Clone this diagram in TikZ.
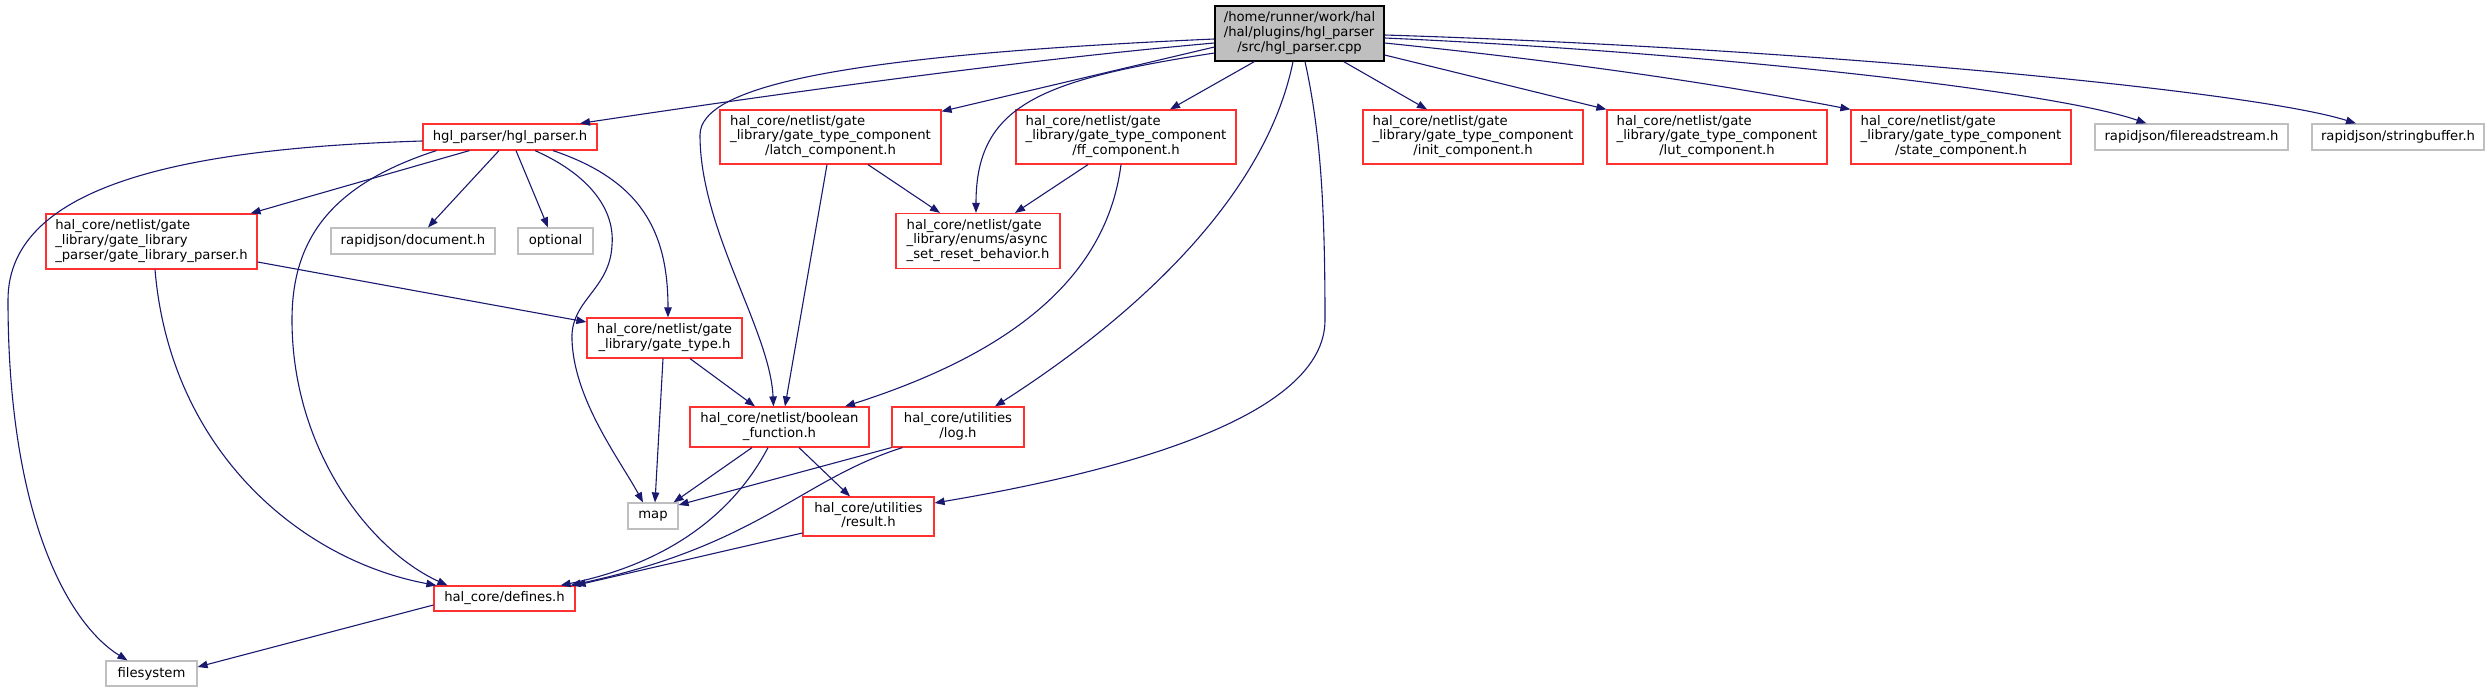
\documentclass[tikz,border=0pt]{standalone}
\usepackage{fontspec}
\newfontfamily\dxfont{DejaVu Sans}
\usetikzlibrary{arrows.meta}
\definecolor{midnight}{HTML}{191970}
\definecolor{grey75}{HTML}{BFBFBF}
\definecolor{incred}{HTML}{FF3030}
\newcommand{\dxlines}[1]{\begin{tabular}{@{}l@{}}#1\end{tabular}}
\newcommand{\dxlast}[1]{\multicolumn{1}{@{}c@{}}{#1}}
\tikzset{
  incbox/.style={draw=incred, line width=1.2pt, fill=white, inner sep=0pt, font=\dxfont\fontsize{13.2}{14.7}\selectfont},
  sysbox/.style={draw=grey75, line width=1.2pt, fill=white, inner sep=0pt, font=\dxfont\fontsize{13.2}{14.7}\selectfont},
  rootbox/.style={draw=black, line width=1.2pt, fill=grey75, inner sep=0pt, font=\dxfont\fontsize{13.2}{14.7}\selectfont},
  dep/.style={draw=midnight, line width=1.1pt, -{Triangle[length=10pt,width=7.5pt]}},
}
\begin{document}
\begin{tikzpicture}[x=1pt,y=-1pt]
\useasboundingbox (0,0) rectangle (2490,692);
\node[rootbox, minimum width=169pt, minimum height=55pt] (root) at (1299.5,33.5) {\dxlines{/home/runner/work/hal\\/hal/plugins/hgl\_parser\\\dxlast{/src/hgl\_parser.cpp}}};
\node[incbox, minimum width=174pt, minimum height=26pt] (hgl) at (510,137) {hgl\_parser/hgl\_parser.h};
\node[incbox, minimum width=211pt, minimum height=55pt] (glp) at (151.5,241.5) {\dxlines{hal\_core/netlist/gate\\\_library/gate\_library\\\dxlast{\_parser/gate\_library\_parser.h}}};
\node[sysbox, minimum width=164pt, minimum height=26pt] (doc) at (413,241) {rapidjson/document.h};
\node[sysbox, minimum width=75pt, minimum height=26pt] (opt) at (555.5,241) {optional};
\node[incbox, minimum width=221pt, minimum height=54pt] (latch) at (830.5,137) {\dxlines{hal\_core/netlist/gate\\\_library/gate\_type\_component\\\dxlast{/latch\_component.h}}};
\node[incbox, minimum width=220pt, minimum height=54pt] (ff) at (1126,137) {\dxlines{hal\_core/netlist/gate\\\_library/gate\_type\_component\\\dxlast{/ff\_component.h}}};
\node[incbox, minimum width=164pt, minimum height=55pt] (async) at (978,241) {\dxlines{hal\_core/netlist/gate\\\_library/enums/async\\\dxlast{\_set\_reset\_behavior.h}}};
\node[incbox, minimum width=220pt, minimum height=54pt] (init) at (1473,137) {\dxlines{hal\_core/netlist/gate\\\_library/gate\_type\_component\\\dxlast{/init\_component.h}}};
\node[incbox, minimum width=220pt, minimum height=54pt] (lut) at (1717,137) {\dxlines{hal\_core/netlist/gate\\\_library/gate\_type\_component\\\dxlast{/lut\_component.h}}};
\node[incbox, minimum width=220pt, minimum height=54pt] (state) at (1961,137) {\dxlines{hal\_core/netlist/gate\\\_library/gate\_type\_component\\\dxlast{/state\_component.h}}};
\node[sysbox, minimum width=193pt, minimum height=26pt] (frs) at (2191.5,137) {rapidjson/filereadstream.h};
\node[sysbox, minimum width=172pt, minimum height=26pt] (sbuf) at (2398,137) {rapidjson/stringbuffer.h};
\node[incbox, minimum width=155pt, minimum height=40pt] (gtype) at (664.5,338) {\dxlines{hal\_core/netlist/gate\\\dxlast{\_library/gate\_type.h}}};
\node[incbox, minimum width=179pt, minimum height=40pt] (bf) at (779.5,427) {\dxlines{hal\_core/netlist/boolean\\\dxlast{\_function.h}}};
\node[incbox, minimum width=132pt, minimum height=40pt] (log) at (958,427) {\dxlines{hal\_core/utilities\\\dxlast{/log.h}}};
\node[sysbox, minimum width=50pt, minimum height=26pt] (map) at (653,516) {map};
\node[incbox, minimum width=131pt, minimum height=39pt] (result) at (868.5,516.5) {\dxlines{hal\_core/utilities\\\dxlast{/result.h}}};
\node[incbox, minimum width=141pt, minimum height=25pt] (defines) at (504.5,598.5) {hal\_core/defines.h};
\node[sysbox, minimum width=91pt, minimum height=25pt] (fsys) at (151.5,673.5) {filesystem};

\draw[dep] ([yshift=-9.5pt]root.west) .. controls (1000,62) and (750,98) .. ([xshift=70pt]hgl.north);
\draw[dep] ([yshift=-5.5pt]root.west) .. controls (850,55) and (700,85) .. (700,135) .. controls (700,230) and (770,330) .. ([xshift=-6pt]bf.north);
\draw[dep] ([yshift=-13.5pt]root.west) -- ([yshift=-2pt]latch.north east);
\draw[dep] ([yshift=-19.5pt]root.west) .. controls (1040,80) and (976,105) .. ([xshift=-2pt]async.north);
\draw[dep] ([xshift=40pt]root.south west) -- ([xshift=44pt]ff.north);
\draw[dep] ([xshift=-6.5pt]root.south) .. controls (1265,200) and (1130,320) .. ([xshift=37pt]log.north);
\draw[dep] ([xshift=5.5pt]root.south) .. controls (1320,130) and (1325,200) .. (1325,320) .. controls (1325,415) and (1130,470) .. ([yshift=13.5pt]result.east);
\draw[dep] ([xshift=-41pt]root.south east) -- ([xshift=-46pt]init.north);
\draw[dep] ([yshift=-21.5pt]root.east) -- (lut.north west);
\draw[dep] ([yshift=-9.5pt]root.east) .. controls (1600,65) and (1750,90) .. (state.north west);
\draw[dep] ([yshift=-4.5pt]root.east) .. controls (1700,52) and (2050,90) .. ([xshift=-45pt]frs.north);
\draw[dep] ([yshift=-1.5pt]root.east) .. controls (1800,48) and (2250,90) .. ([xshift=-42pt]sbuf.north);

\draw[dep] ([yshift=-4pt]hgl.west) .. controls (200,148) and (8,180) .. (8,300) .. controls (8,520) and (70,625) .. ([xshift=-24pt]fsys.north);
\draw[dep] ([xshift=14pt]hgl.south west) .. controls (330,185) and (292,240) .. (292,320) .. controls (292,450) and (370,550) .. ([xshift=14pt]defines.north west);
\draw[dep] ([xshift=47pt]hgl.south west) -- ([xshift=-7pt]glp.north east);
\draw[dep] ([xshift=-11pt]hgl.south) -- ([xshift=15pt]doc.north);
\draw[dep] ([xshift=6pt]hgl.south) -- ([xshift=-7.5pt]opt.north);
\draw[dep] ([xshift=25pt]hgl.south) .. controls (590,175) and (615,210) .. (612,245) .. controls (610,290) and (570,300) .. (572,340) .. controls (574,400) and (620,460) .. ([xshift=-10pt]map.north);
\draw[dep] ([xshift=43pt]hgl.south) .. controls (640,180) and (668,230) .. ([xshift=3.5pt]gtype.north);
\draw[dep] ([xshift=3.5pt]glp.south) .. controls (170,450) and (300,560) .. ([xshift=3pt]defines.north west);
\draw[dep] ([yshift=-20.5pt]glp.east) -- ([yshift=16pt]gtype.west);
\draw[dep] ([xshift=-1.5pt]gtype.south) -- ([xshift=2pt]map.north);
\draw[dep] ([xshift=25.5pt]gtype.south) -- ([xshift=-24.5pt]bf.north);
\draw[dep] ([xshift=-3.5pt]latch.south) -- ([xshift=5.5pt]bf.north);
\draw[dep] ([xshift=37.5pt]latch.south) -- ([xshift=-38pt]async.north);
\draw[dep] ([xshift=-38pt]ff.south) -- ([xshift=37pt]async.north);
\draw[dep] ([xshift=-5pt]ff.south) .. controls (1105,290) and (990,360) .. ([xshift=65.5pt]bf.north);
\draw[dep] ([xshift=-27.5pt]bf.south) -- ([xshift=-5pt]map.north east);
\draw[dep] ([xshift=-11.5pt]bf.south) .. controls (730,520) and (660,565) .. ([xshift=-15pt]defines.north east);
\draw[dep] ([xshift=19.5pt]bf.south) -- ([xshift=-18.5pt]result.north);
\draw[dep] (log.south west) -- ([yshift=11pt]map.east);
\draw[dep] ([xshift=11pt]log.south west) .. controls (800,480) and (760,545) .. ([xshift=-5pt]defines.north east);
\draw[dep] ([yshift=-16.5pt]result.west) -- (defines.north east);
\draw[dep] ([yshift=-6.5pt]defines.west) -- ([yshift=6.5pt]fsys.east);
\end{tikzpicture}
\end{document}
